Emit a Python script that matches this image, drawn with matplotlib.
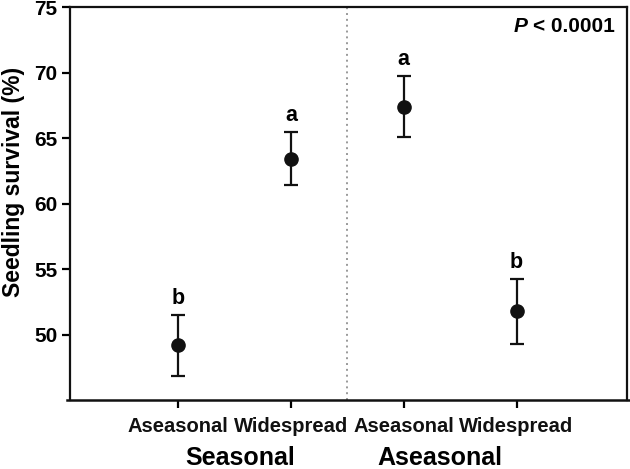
import matplotlib
matplotlib.use("Agg")
import matplotlib.pyplot as plt
from matplotlib.lines import Line2D
import matplotlib.transforms as mtransforms

# Data
positions = [1, 2, 3, 4]
tick_labels = ["Aseasonal", "Widespread", "Aseasonal", "Widespread"]
means = [49.2, 63.4, 67.4, 51.8]
err_upper = [51.5, 65.45, 69.75, 54.25]
err_lower = [46.8, 61.4, 65.1, 49.25]
letters = ["b", "a", "a", "b"]
group_labels = ["Seasonal", "Aseasonal"]
group_x = [1.55, 3.32]
p_text = "< 0.0001"

plt.rcParams['font.family'] = ['Liberation Sans', 'DejaVu Sans']

fig = plt.figure(figsize=(6.3, 4.69), dpi=100)
ax = fig.add_axes([70/630, 1-400/469, (627-70)/630, (400-7.3)/469])

yerr = [[m - lo for m, lo in zip(means, err_lower)],
        [hi - m for m, hi in zip(means, err_upper)]]
ax.errorbar(positions, means, yerr=yerr, fmt='o', color='#111111',
            markersize=9.5, elinewidth=1.6, capsize=5, capthick=1.6, zorder=3)

for x, hi, lab in zip(positions, err_upper, letters):
    ax.annotate(lab, xy=(x, hi), xytext=(0, 4.5), textcoords='offset points',
                ha='center', va='bottom', fontsize=15.5, fontweight='bold')

ax.axvline(2.5, color='#999999', linestyle=(0, (1, 2)), linewidth=1.4)

ax.set_xlim(0.04, 4.98)
ax.set_ylim(45, 75)
ax.set_yticks([50, 55, 60, 65, 70, 75])
ax.set_xticks(positions)
ax.set_xticklabels(tick_labels, fontsize=14.5, fontweight='bold', color='#111111')
for t in ax.get_yticklabels():
    t.set_fontsize(15)
    t.set_fontweight('bold')
ax.tick_params(axis='y', length=6, width=1.6, pad=3)
ax.tick_params(axis='x', length=6, width=1.6, pad=6)

for s in ax.spines.values():
    s.set_linewidth(1.6)
    s.set_color('#111111')
ax.spines['bottom'].set_visible(False)
fig.add_artist(Line2D([67/630, 630/630], [1-400/469, 1-400/469],
                      color='#111111', linewidth=1.8, transform=fig.transFigure))

fig.text(14/630, 1 - 182/469, "Seedling survival (%)", rotation=90,
         ha='center', va='center', fontsize=16.5, fontweight='bold')

blend = mtransforms.blended_transform_factory(ax.transData, fig.transFigure)
for gx, gl in zip(group_x, group_labels):
    ax.text(gx, 1 - 458/469, gl, transform=blend,
            ha='center', va='center', fontsize=18, fontweight='bold')

t = ax.text(615/630, 1 - 26/469, p_text, transform=fig.transFigure,
            ha='right', va='center', fontsize=15, fontweight='bold')
ax.annotate("P ", xy=(0, 0.5), xycoords=t, ha='right', va='center',
            fontsize=15, fontweight='bold', fontstyle='italic')

fig.savefig("out.png", dpi=100)
